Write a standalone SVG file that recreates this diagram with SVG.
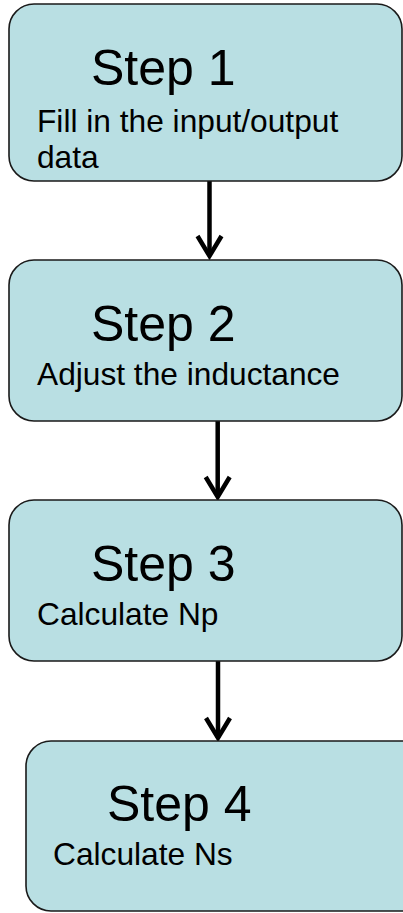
<svg xmlns="http://www.w3.org/2000/svg" width="403" height="913" viewBox="0 0 403 913">
<defs>
<style>
.box{fill:#b9dfe3;stroke:#1a1a1a;stroke-width:1.6}
.title{font-family:"Liberation Sans",Arial,sans-serif;font-size:50px;fill:#000}
.body{font-family:"Liberation Sans",Arial,sans-serif;font-size:31.7px;fill:#000}
.conn{stroke:#000;stroke-width:4.5;fill:none}
</style>
<marker id="arr" markerUnits="userSpaceOnUse" viewBox="-25 -15 30 30" markerWidth="30" markerHeight="30" refX="0" refY="0" orient="auto" overflow="visible">
<path d="M-20,-12 L0,0 L-20,12" fill="none" stroke="#000" stroke-width="4.5" stroke-linejoin="miter"/>
</marker>
</defs>
<rect width="403" height="913" fill="#fff"/>
<g id="connectors">
<line class="conn" x1="209.5" y1="181" x2="209.5" y2="256" marker-end="url(#arr)"/>
<line class="conn" x1="217.7" y1="421" x2="217.7" y2="497" marker-end="url(#arr)"/>
<line class="conn" x1="218" y1="661" x2="218" y2="738" marker-end="url(#arr)"/>
</g>
<g id="step1">
<rect class="box" x="9" y="4" width="393" height="177" rx="25" ry="25"/>
<text class="title" x="91" y="85">Step 1</text>
<text class="body" x="37" y="132">Fill in the input/output</text>
<text class="body" x="37" y="168">data</text>
</g>
<g id="step2">
<rect class="box" x="9" y="260" width="393" height="161" rx="25" ry="25"/>
<text class="title" x="91" y="341">Step 2</text>
<text class="body" x="37" y="385">Adjust the inductance</text>
</g>
<g id="step3">
<rect class="box" x="9" y="500" width="393" height="161" rx="25" ry="25"/>
<text class="title" x="91" y="581">Step 3</text>
<text class="body" x="37" y="625">Calculate Np</text>
</g>
<g id="step4">
<rect class="box" x="26" y="741" width="400" height="170" rx="25" ry="25"/>
<text class="title" x="107" y="821">Step 4</text>
<text class="body" x="53" y="865">Calculate Ns</text>
</g>
</svg>
